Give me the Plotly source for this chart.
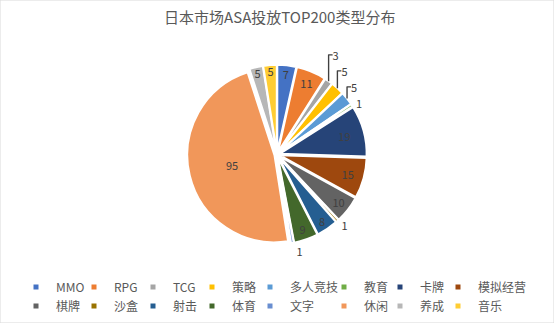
import plotly.graph_objects as go

# 类型 and 数量 for the ASA TOP200 breakdown
categories = ["MMO", "RPG", "TCG", "策略", "多人竞技", "教育", "卡牌", "模拟经营",
              "棋牌", "沙盒", "射击", "体育", "文字", "休闲", "养成", "音乐"]
counts = [7, 11, 3, 5, 5, 1, 19, 15, 10, 1, 8, 9, 1, 95, 5, 5]
colors = ["#4472C4", "#ED7D31", "#A5A5A5", "#FFC000", "#5B9BD5", "#70AD47",
          "#264478", "#9E480E", "#636363", "#997300", "#255E91", "#43682B",
          "#698ED0", "#F1975A", "#B7B7B7", "#FFCD33"]
title_text = "日本市场ASA投放TOP200类型分布"

FONT = "Noto Sans CJK SC"
W, H = 554, 323

# the tiniest slices get their numbers outside the pie
outside_set = {"TCG", "策略", "多人竞技", "教育", "沙盒", "文字"}
positions = ["outside" if c in outside_set else "inside" for c in categories]

fig = go.Figure()
fig.add_trace(go.Pie(
    labels=categories,
    values=counts,
    sort=False,
    direction="clockwise",
    rotation=0,
    marker=dict(colors=colors, line=dict(color="white", width=2)),
    pull=0.03,
    textinfo="value",
    textposition=positions,
    insidetextorientation="horizontal",
    textfont=dict(family=FONT, size=11, color="#404040"),
    outsidetextfont=dict(family=FONT, size=11, color="#404040"),
    domain=dict(x=[0.338, 0.662], y=[0.243, 0.8]),
    hoverinfo="label+value+percent",
    showlegend=False,
))

# legend: two rows of eight, laid out column by column
n_cols = 8
text_left_px = [56, 114, 173, 232, 290, 364, 420, 478]
legend_layouts = {}
for col in range(n_cols):
    key = "legend" if col == 0 else f"legend{col + 1}"
    legend_layouts[key] = dict(
        orientation="v",
        x=(text_left_px[col] - 40) / W, xanchor="left",
        y=(H - 296.5) / H, yanchor="middle",
        itemwidth=30,
        font=dict(family=FONT, size=12, color="#595959"),
        bgcolor="rgba(0,0,0,0)",
        borderwidth=0,
        tracegroupgap=0,
        traceorder="normal",
    )
    for row in range(2):
        i = row * n_cols + col
        fig.add_trace(go.Scatter(
            x=[None], y=[None], mode="markers", name=categories[i],
            marker=dict(symbol="square", size=5, color=colors[i]),
            legend=key, showlegend=True, hoverinfo="skip",
        ))

fig.update_layout(
    width=W, height=H,
    margin=dict(l=0, r=0, t=0, b=0),
    paper_bgcolor="white",
    plot_bgcolor="white",
    title=dict(text=title_text, x=0.505, xanchor="center", y=0.945, yanchor="middle",
               font=dict(family=FONT, size=15, color="#595959")),
    xaxis=dict(visible=False),
    yaxis=dict(visible=False),
    uniformtext=dict(minsize=11, mode="show"),
    shapes=[dict(type="rect", xref="paper", yref="paper", x0=0, y0=0, x1=1, y1=1,
                 line=dict(color="#D9D9D9", width=1))],
    **legend_layouts,
)

fig.write_html("out.html")
